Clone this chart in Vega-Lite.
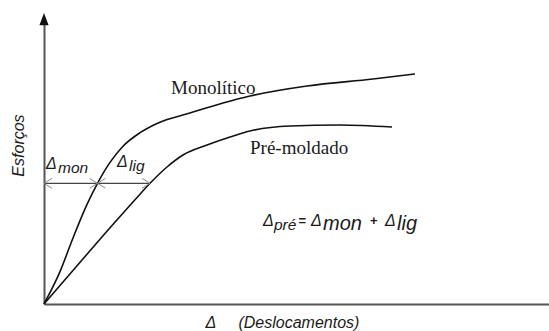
{
  "$schema": "https://vega.github.io/schema/vega-lite/v6.json",
  "width": 505,
  "height": 284,
  "autosize": {"type": "none"},
  "padding": {"left": 44, "top": 20, "right": 0, "bottom": 27},
  "background": "white",
  "config": {"view": {"stroke": null}, "font": "Liberation Sans"},
  "datasets": {
    "curves": [
      {"serie": "Monolítico", "d": 0, "f": 0},
      {"serie": "Monolítico", "d": 3.2, "f": 10.8},
      {"serie": "Monolítico", "d": 5.8, "f": 22.0},
      {"serie": "Monolítico", "d": 8.6, "f": 33.2},
      {"serie": "Monolítico", "d": 10.7, "f": 40.23},
      {"serie": "Monolítico", "d": 13.2, "f": 47.2},
      {"serie": "Monolítico", "d": 15.8, "f": 52.6},
      {"serie": "Monolítico", "d": 19.2, "f": 57.1},
      {"serie": "Monolítico", "d": 22.6, "f": 60.2},
      {"serie": "Monolítico", "d": 29.2, "f": 63.67},
      {"serie": "Monolítico", "d": 35.8, "f": 67},
      {"serie": "Monolítico", "d": 41.2, "f": 69.33},
      {"serie": "Monolítico", "d": 52.6, "f": 72.67},
      {"serie": "Monolítico", "d": 65.8, "f": 75},
      {"serie": "Monolítico", "d": 74.2, "f": 76.67},
      {"serie": "Pré-moldado", "d": 0, "f": 0},
      {"serie": "Pré-moldado", "d": 7, "f": 13.5},
      {"serie": "Pré-moldado", "d": 14, "f": 26.9},
      {"serie": "Pré-moldado", "d": 19.2, "f": 36.6},
      {"serie": "Pré-moldado", "d": 21.2, "f": 40.23},
      {"serie": "Pré-moldado", "d": 24.6, "f": 45.67},
      {"serie": "Pré-moldado", "d": 27.8, "f": 49.67},
      {"serie": "Pré-moldado", "d": 32.6, "f": 53},
      {"serie": "Pré-moldado", "d": 37.2, "f": 55.67},
      {"serie": "Pré-moldado", "d": 41.2, "f": 57.67},
      {"serie": "Pré-moldado", "d": 49.2, "f": 59.33},
      {"serie": "Pré-moldado", "d": 59.2, "f": 59.67},
      {"serie": "Pré-moldado", "d": 69.6, "f": 59}
    ],
    "heads": [
      {"d": 0, "f": 40.23, "dir": "left"},
      {"d": 10.7, "f": 40.23, "dir": "right"},
      {"d": 10.7, "f": 40.23, "dir": "left"},
      {"d": 21.2, "f": 40.23, "dir": "right"}
    ],
    "labels": [
      {"t": "Monolítico", "d": 25.4, "f": 70, "k": "curve"},
      {"t": "Pré-moldado", "d": 41.2, "f": 50, "k": "curve"},
      {"t": "Δ", "d": 0.4, "f": 45, "k": "delta"},
      {"t": "mon", "d": 2.8, "f": 43.67, "k": "sub"},
      {"t": "Δ", "d": 14.6, "f": 45.67, "k": "delta"},
      {"t": "lig", "d": 17, "f": 44.17, "k": "sub"},
      {"t": "Δ", "d": 43.8, "f": 26, "k": "delta"},
      {"t": "pré", "d": 46, "f": 24.83, "k": "sub"},
      {"t": "=", "d": 50.9, "f": 26.5, "k": "op"},
      {"t": "Δ", "d": 53.4, "f": 26, "k": "delta"},
      {"t": "mon", "d": 55.8, "f": 24.83, "k": "subL"},
      {"t": "+", "d": 65.2, "f": 26.3, "k": "op"},
      {"t": "Δ", "d": 68.2, "f": 26, "k": "delta"},
      {"t": "lig", "d": 70.6, "f": 24.83, "k": "subL"}
    ]
  },
  "encoding": {
    "x": {
      "field": "d", "type": "quantitative",
      "scale": {"domain": [0, 101], "nice": false, "zero": false},
      "axis": {
        "domain": true, "domainColor": "#555555", "domainWidth": 2,
        "ticks": false, "labels": false, "grid": false,
        "title": "Δ\u00a0\u00a0\u00a0\u00a0\u00a0(Deslocamentos)",
        "titleFont": "Liberation Sans", "titleFontStyle": "italic", "titleFontWeight": "normal",
        "titleFontSize": 16, "titleColor": "#1a1a1a",
        "titleAlign": "left", "titleAnchor": "start", "titleX": 161, "titleY": 23, "titleBaseline": "alphabetic"
      }
    },
    "y": {
      "field": "f", "type": "quantitative",
      "scale": {"domain": [0, 94.67], "nice": false, "zero": false},
      "axis": {
        "domain": true, "domainColor": "#555555", "domainWidth": 2,
        "ticks": false, "labels": false, "grid": false,
        "title": "Esforços",
        "titleFont": "Liberation Sans", "titleFontStyle": "italic", "titleFontWeight": "normal",
        "titleFontSize": 16, "titleColor": "#1a1a1a",
        "titleAngle": -90, "titleAlign": "center", "titleX": -21, "titleY": 125, "titleBaseline": "alphabetic"
      }
    }
  },
  "layer": [
    {
      "data": {"name": "curves"},
      "mark": {"type": "line", "color": "#111111", "strokeWidth": 1.6, "interpolate": "monotone"},
      "encoding": {
        "detail": {"field": "serie", "type": "nominal"}
      }
    },
    {
      "data": {"values": [{"d": 0, "d2": 21.2, "f": 40.23}]},
      "mark": {"type": "rule", "color": "#444444", "strokeWidth": 1.3},
      "encoding": {
        "x2": {"field": "d2"}
      }
    },
    {
      "data": {"name": "heads"},
      "mark": {"type": "point", "filled": false, "stroke": "#8a8a8a", "strokeWidth": 1, "size": 256, "opacity": 1},
      "encoding": {
        "shape": {
          "field": "dir", "type": "nominal", "legend": null,
          "scale": {"domain": ["left", "right"], "range": ["M 1 -0.62 L 0 0 L 1 0.62", "M -1 -0.62 L 0 0 L -1 0.62"]}
        }
      }
    },
    {
      "data": {"values": [{"d": 0, "f": 95}]},
      "mark": {"type": "point", "filled": true, "color": "#111111", "opacity": 1, "size": 150, "shape": "M 0 -1 L 0.75 1 L -0.75 1 Z"}
    },
    {
      "data": {"name": "labels"},
      "transform": [{"filter": "datum.k === 'curve'"}],
      "mark": {"type": "text", "font": "Liberation Serif", "fontSize": 19, "color": "#1a1a1a", "align": "left", "baseline": "alphabetic"},
      "encoding": {"text": {"field": "t"}}
    },
    {
      "data": {"name": "labels"},
      "transform": [{"filter": "datum.k === 'delta'"}],
      "mark": {"type": "text", "font": "Liberation Sans", "fontStyle": "italic", "fontSize": 16, "color": "#1a1a1a", "align": "left", "baseline": "alphabetic"},
      "encoding": {"text": {"field": "t"}}
    },
    {
      "data": {"name": "labels"},
      "transform": [{"filter": "datum.k === 'sub'"}],
      "mark": {"type": "text", "font": "Liberation Sans", "fontStyle": "italic", "fontSize": 15.5, "color": "#1a1a1a", "align": "left", "baseline": "alphabetic"},
      "encoding": {"text": {"field": "t"}}
    },
    {
      "data": {"name": "labels"},
      "transform": [{"filter": "datum.k === 'subL'"}],
      "mark": {"type": "text", "font": "Liberation Sans", "fontStyle": "italic", "fontSize": 20, "color": "#1a1a1a", "align": "left", "baseline": "alphabetic"},
      "encoding": {"text": {"field": "t"}}
    },
    {
      "data": {"name": "labels"},
      "transform": [{"filter": "datum.k === 'op'"}],
      "mark": {"type": "text", "font": "Liberation Sans", "fontWeight": "bold", "fontSize": 13, "color": "#1a1a1a", "align": "left", "baseline": "alphabetic"},
      "encoding": {"text": {"field": "t"}}
    }
  ]
}
